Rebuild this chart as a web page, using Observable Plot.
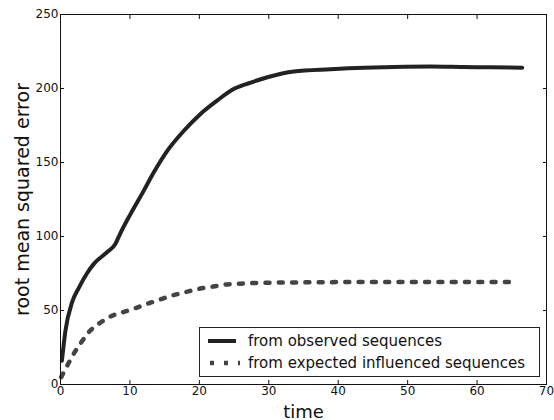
<!DOCTYPE html>
<html>
<head>
<meta charset="utf-8">
<script src="https://cdn.jsdelivr.net/npm/d3@7"></script>
<script src="https://cdn.jsdelivr.net/npm/@observablehq/plot@0.6"></script>
<style>
  body { margin: 0; background: #fff; font-family: "DejaVu Sans", sans-serif; }
  #wrap { position: relative; width: 554px; height: 420px; }
  #wrap svg [aria-label="y-axis label"] { font-size: 19px; }
  #wrap svg [aria-label="x-axis label"] { font-size: 18px; }
  #legend { position: absolute; left: 199px; top: 327px; width: 341px; height: 50px;
            border: 1px solid #222; box-sizing: border-box; background: #fff; font-size: 15px; color: #111; }
  .row { position: absolute; left: 0; height: 20px; display: flex; align-items: center; white-space: nowrap; }
  .row svg { width: 36px; height: 20px; margin-left: 6px; flex: none; }
  .row span { margin-left: 6px; }
</style>
</head>
<body>
<div id="wrap"></div>
<script>
const xTicks = [0, 10, 20, 30, 40, 50, 60, 70];
const yTicks = [0, 50, 100, 150, 200, 250];
const seriesNames = ["from observed sequences", "from expected influenced sequences"];

const timeObserved = [0.2, 0.7, 1.7, 2.6, 3.8, 4.8, 6.7, 7.9, 8.6, 10.1, 12, 13.4, 15.4, 17.8, 20.2, 22.6, 25, 27.4, 29.8, 33.6, 38.9, 43.7, 48, 53.3, 58, 62, 66.5];
const rmseObserved = [16, 36, 56, 65, 75, 81.5, 89.4, 95, 102, 115.3, 131, 143, 158, 171.6, 183, 192, 199.8, 204, 207.6, 211.5, 213, 214, 214.5, 214.8, 214.5, 214.3, 214];

const timeExpected = [0.1, 1, 2, 3, 4, 5.5, 7, 9, 10.5, 12.5, 14.2, 16, 18, 20, 22, 23.5, 25.5, 27, 30, 35, 40, 45, 50, 55, 60, 65.3];
const rmseExpected = [5, 13, 21.5, 28.5, 35, 41, 45.5, 48.9, 51.1, 54.5, 57.2, 60, 62.4, 64.7, 66.2, 67.4, 68, 68.4, 68.8, 69, 69.2, 69.3, 69.3, 69.3, 69.3, 69.3];

const observed = timeObserved.map((t, i) => ({time: t, rmse: rmseObserved[i]}));
const expected = timeExpected.map((t, i) => ({time: t, rmse: rmseExpected[i]}));

const blank = () => "";
const chart = Plot.plot({
  width: 554,
  height: 420,
  marginLeft: 60,
  marginRight: 8,
  marginTop: 14,
  marginBottom: 36,
  style: {fontFamily: "DejaVu Sans, sans-serif", fontSize: "12px", color: "#111", background: "#fff"},
  x: {domain: [0, 70]},
  y: {domain: [0, 250]},
  marks: [
    Plot.axisX({ticks: xTicks, tickSize: -4, tickPadding: 6, label: "time", labelAnchor: "center", labelOffset: 33, labelArrow: "none"}),
    Plot.axisY({ticks: yTicks, tickSize: -4, tickPadding: 6, label: "root mean squared error", labelAnchor: "center", labelOffset: 45, labelArrow: "none"}),
    Plot.axisX({anchor: "top", ticks: xTicks, tickSize: -4, tickFormat: blank, label: null}),
    Plot.axisY({anchor: "right", ticks: yTicks, tickSize: -4, tickFormat: blank, label: null}),
    Plot.lineY(expected, {x: "time", y: "rmse", curve: "monotone-x", stroke: "#444", strokeWidth: 4.5, strokeDasharray: "4,9.3"}),
    Plot.lineY(observed, {x: "time", y: "rmse", curve: "monotone-x", stroke: "#222", strokeWidth: 4}),
    Plot.frame({stroke: "#111"})
  ]
});
const wrap = document.getElementById("wrap");
wrap.appendChild(chart);

const legend = document.createElement("div");
legend.id = "legend";
legend.innerHTML = `
  <div class="row" style="top:3px"><svg><line x1="2" y1="10" x2="30" y2="10" stroke="#222" stroke-width="4"/></svg><span>${seriesNames[0]}</span></div>
  <div class="row" style="top:25px"><svg><line x1="4" y1="10" x2="34" y2="10" stroke="#444" stroke-width="4.5" stroke-dasharray="4,10"/></svg><span>${seriesNames[1]}</span></div>`;
wrap.appendChild(legend);
</script>
</body>
</html>
